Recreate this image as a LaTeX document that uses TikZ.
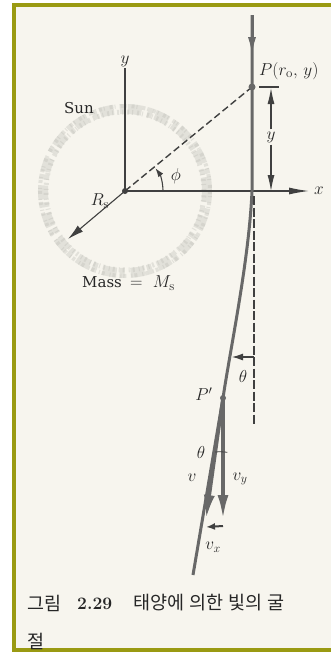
\documentclass[tikz,border=0pt]{standalone}
\usepackage{fontspec}
\newfontfamily\kofont{Noto Sans CJK KR}
\newfontfamily\wordfont{DejaVu Serif}
\usetikzlibrary{arrows.meta,positioning}
\definecolor{framecol}{HTML}{9A9A12}
\definecolor{papercol}{HTML}{F7F5EE}
\definecolor{raygray}{HTML}{686868}
\definecolor{inkgray}{HTML}{404040}
\definecolor{sungray}{HTML}{BDBDB6}

\tikzset{
  lbl/.style={font=\fontsize{18.5}{21}\selectfont,text=black!85,inner sep=1pt},
  wordlbl/.style={font=\wordfont\fontsize{15}{18}\selectfont,text=black!85,inner sep=1pt},
  axisline/.style={draw=inkgray,line width=1.1pt},
  ray/.style={draw=raygray,line width=3pt},
  vecline/.style={draw=raygray,line width=3.4pt},
  dot/.style={circle,fill=raygray,inner sep=0pt,minimum size=7pt},
  sunring/.style={draw=sungray,line width=10pt,opacity=0.35},
  kotext/.style={anchor=west,inner sep=0pt,text=black!85,font=\kofont\fontsize{18.5}{22}\selectfont}
}

\begin{document}
\begin{tikzpicture}[x=1pt,y=-1pt]
  \useasboundingbox (0,0) rectangle (331,653);
  % paper and frame
  \fill[papercol] (14,5) rectangle (331,650);
  \draw[framecol,line width=4pt,line join=miter] (331,5) -- (14,5) -- (14,650) -- (331,650);

  % Sun
  \coordinate (O) at (125,191);
  \draw[sunring,dash pattern=on 14pt off 3pt on 5pt off 6pt] (O) circle [radius=82pt];
  \draw[sunring,line width=5pt,dash pattern=on 2pt off 4pt on 1pt off 3pt] (O) circle [radius=79pt];
  \draw[sunring,line width=4pt,dash pattern=on 1pt off 2pt on 3pt off 5pt] (O) circle [radius=85pt];
  \node[wordlbl] (sunlab) at (79,108) {Sun};
  \node[wordlbl,anchor=west] (mass) at (81,283) {Mass\;\;\fontsize{18.5}{21}\selectfont$=$\;\;$M_{\mathrm s}$};

  % axes
  \coordinate (ytop) at (125,68);
  \coordinate (xend) at (309,191);
  \coordinate (rsend) at (68,239);
  \draw[axisline] (O) -- (ytop) node[lbl,above] (ylab) {$y$};
  \draw[axisline,-{Latex[length=20pt,width=7pt]}] (O) -- (xend);
  \node[lbl,right=4pt of xend] (xlab) {$x$};
  \draw[axisline,-{Latex[length=16pt,width=8pt]}] (O) -- (rsend);
  \node[lbl] (rslab) at (100,201) {$R_{\mathrm s}$};

  % light ray
  \coordinate (top) at (252,15);
  \coordinate (mid) at (252,57);
  \coordinate (bend) at (252,191);
  \coordinate (Pp) at (223,398);
  \coordinate (low) at (193,575);
  \coordinate (P) at (252,87);
  \draw[ray] (top) -- (bend)
    .. controls (249,260) and (231,345) .. (Pp) -- (low);
  \draw[ray,-{Latex[length=20pt,width=8pt]}] (top) -- (mid);
  \draw[axisline,line width=1.4pt,dash pattern=on 7pt off 3.5pt] (O) -- (P);
  \node[dot] (Pdot) at (P) {};
  \node[lbl,anchor=west] (Plab) at (258,71) {$P(r_{\mathrm o},\,y)$};
  \node[circle,fill=inkgray,inner sep=0pt,minimum size=6pt] (Odot) at (O) {};

  % phi
  \draw[axisline,-{Latex[length=9pt,width=6pt]}] ([shift={(38,0)}]O) arc[start angle=0,end angle=37,radius=38pt];
  \node[lbl] (philab) at (176,176) {$\phi$};

  % y distance
  \coordinate (tickl) at (259,87);
  \coordinate (tickr) at (279,87);
  \coordinate (yup) at (271,88);
  \coordinate (ydn) at (271,191);
  \draw[axisline] (tickl) -- (tickr);
  \node[lbl,fill=papercol,inner sep=2pt] (ydist) at (271,137) {$y$};
  \draw[axisline,-{Latex[length=16pt,width=7pt]}] (ydist) -- (yup);
  \draw[axisline,-{Latex[length=16pt,width=7pt]}] (ydist) -- (ydn);

  % deflection
  \coordinate (dsh1) at (254,196);
  \coordinate (dsh2) at (254,425);
  \coordinate (thR) at (254,357);
  \coordinate (thL) at (232,357);
  \draw[axisline,dash pattern=on 9pt off 2.5pt] (dsh1) -- (dsh2);
  \draw[axisline,-{Latex[length=11pt,width=7pt]}] (thR) -- (thL);
  \node[lbl] (thlab) at (243,376) {$\theta$};

  % velocity at P'
  \coordinate (vtip) at (206,519);
  \coordinate (vytip) at (223,519);
  \coordinate (vxs) at (223,526);
  \coordinate (vxe) at (206,527);
  \node[dot,minimum size=6pt] (Ppdot) at (Pp) {};
  \node[lbl] (Pplab) at (204,394) {$P'$};
  \draw[vecline,-{Latex[length=24pt,width=11pt]}] (Pp) -- (vtip);
  \draw[vecline,-{Latex[length=24pt,width=11pt]}] (Pp) -- (vytip);
  \draw[axisline,line width=2pt,-{Latex[length=9pt,width=7pt]}] (vxs) -- (vxe);
  \draw[inkgray,line width=0.8pt] (215,452) arc[start angle=95,end angle=82,radius=55pt];
  \node[lbl] (thvlab) at (201,452) {$\theta$};
  \node[lbl] (vlab) at (192,478) {$v$};
  \node[lbl] (vylab) at (240,479) {$v_y$};
  \node[lbl] (vxlab) at (213,547) {$v_x$};

  % caption
  \node[kotext] (cap1) at (27,603) {그림};
  \node[anchor=west,inner sep=0pt,text=black!85,font=\fontsize{17.5}{20}\selectfont\bfseries] (capnum) at (77,604) {2.29};
  \node[kotext] (cap2) at (133,603) {태양에\hspace{1pt} 의한\hspace{1pt} 빛의\hspace{1pt} 굴};
  \node[kotext] (cap3) at (27,641) {절};
\end{tikzpicture}
\end{document}
